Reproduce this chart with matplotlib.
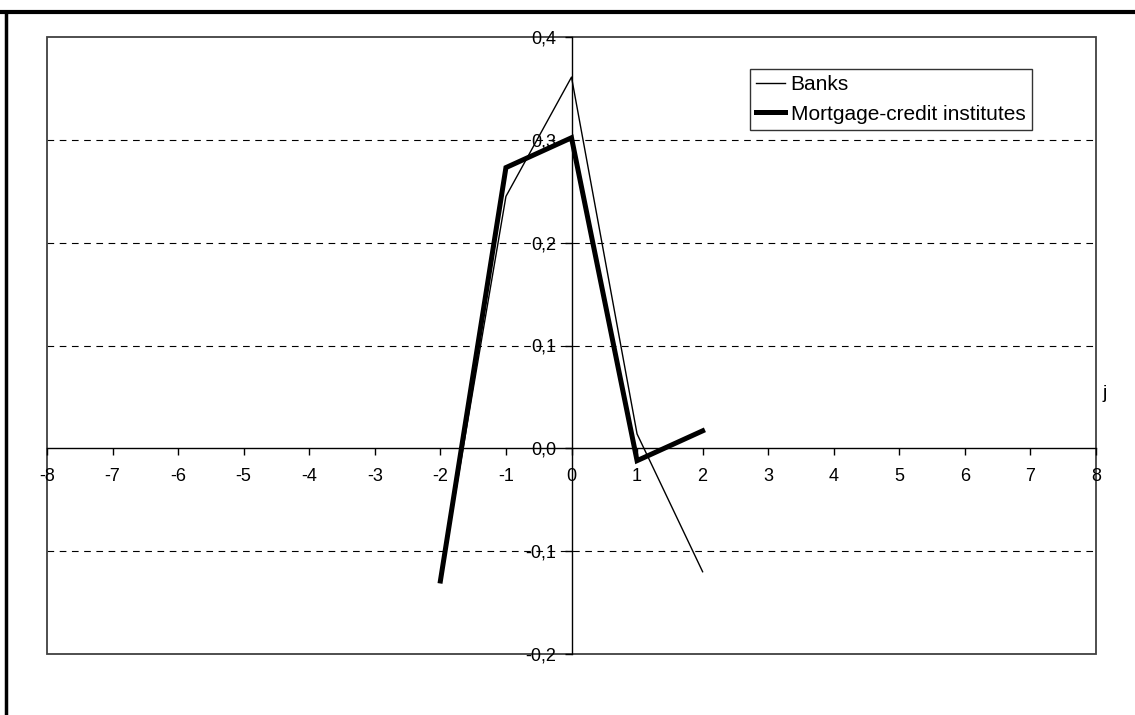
import matplotlib
matplotlib.use("Agg")
import matplotlib.pyplot as plt
from matplotlib.ticker import FuncFormatter, MultipleLocator
from matplotlib.lines import Line2D
from matplotlib.patches import Rectangle

plt.rcParams['font.family'] = ['Liberation Sans', 'DejaVu Sans']
plt.rcParams['axes.unicode_minus'] = False

# data
j = [-2, -1, 0, 1, 2]
banks = [-0.13, 0.245, 0.361, 0.014, -0.12]
mortgage = [-0.129, 0.273, 0.302, -0.012, 0.017]

fig = plt.figure(figsize=(11.35, 7.15), dpi=100)
ax = fig.add_axes([47/1135, 1-654/715, (1096-47)/1135, (654-37)/715])

ax.plot(j, banks, color='black', lw=1.0, label='Banks')
ax.plot(j, mortgage, color='black', lw=3.6, label='Mortgage-credit institutes',
        solid_joinstyle='miter')

ax.set_xlim(-8, 8)
ax.set_ylim(-0.2, 0.4)
ax.xaxis.set_major_locator(MultipleLocator(1))
ax.yaxis.set_major_locator(MultipleLocator(0.1))
ax.yaxis.set_major_formatter(FuncFormatter(lambda v, p: f"{v:.1f}".replace('.', ',')))
for yv in [-0.1, 0.1, 0.2, 0.3]:
    ax.axhline(yv, color='black', lw=0.8, ls=(0, (6, 5)), zorder=0)

ax.spines['left'].set_position(('data', 0))
ax.spines['bottom'].set_position(('data', 0))
ax.spines['top'].set_visible(False)
ax.spines['right'].set_visible(False)
for s in ['left', 'bottom']:
    ax.spines[s].set_linewidth(1.0)
ax.add_patch(Rectangle((0, 0), 1, 1, transform=ax.transAxes, fill=False,
                       edgecolor='#404040', lw=1.3, zorder=0, clip_on=False))
ax.tick_params(axis='both', direction='out', length=5, width=1, labelsize=13)
ax.tick_params(axis='x', pad=9)
ax.tick_params(axis='y', pad=6)
ax.set_facecolor('none')

ax.text(1.0067, 0.423, 'j', transform=ax.transAxes, fontsize=14, ha='left', va='center')

leg = ax.legend(loc='upper left', bbox_to_anchor=((750-47)/1049, 1-(69-37)/617),
                frameon=True, fancybox=False, edgecolor='black', fontsize=15,
                handlelength=1.4, handletextpad=0.25, borderpad=0.3,
                labelspacing=0.5, borderaxespad=0)
leg.get_frame().set_linewidth(1.0)

# outer frame of the page
fig.add_artist(Line2D([0, 1], [1-12/715, 1-12/715], color='black', lw=3,
                      transform=fig.transFigure))
fig.add_artist(Line2D([6/1135, 6/1135], [0, 1-12/715], color='black', lw=2.5,
                      transform=fig.transFigure))

fig.savefig('out.png', dpi=100)
